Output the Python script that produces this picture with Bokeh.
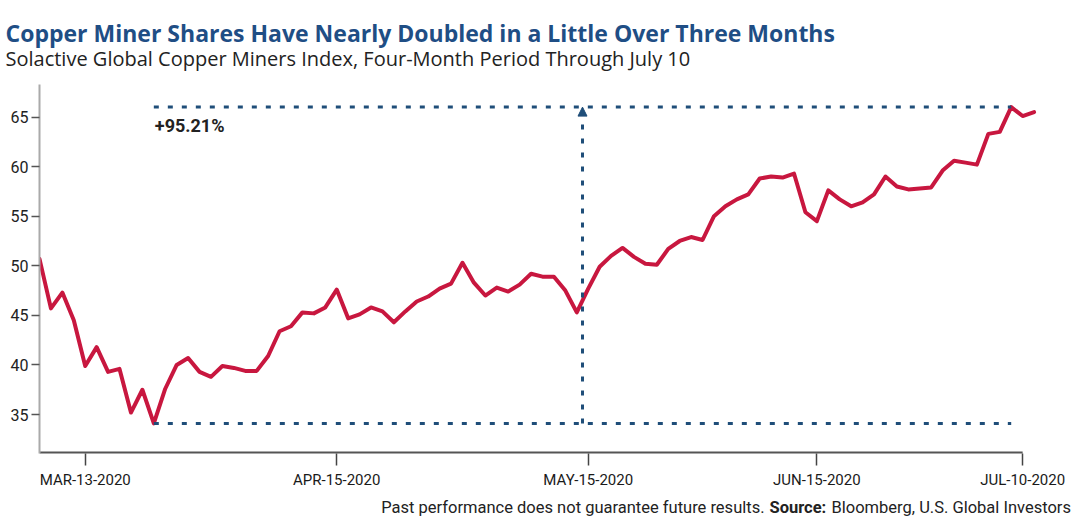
from bokeh.plotting import figure
from bokeh.layouts import column
from bokeh.models import Range1d, FixedTicker, Label, Arrow, NormalHead, ColumnDataSource
from bokeh.embed import file_html
from bokeh.resources import INLINE

# ---- data ----
# Solactive Global Copper Miners Index, daily closes, trading-day index 0..87 (Mar 9 2020 onward)
index_values = [50.7, 45.7, 47.3, 44.5, 39.9, 41.8, 39.3, 39.6, 35.2, 37.5,
                34.1, 37.6, 40.0, 40.7, 39.3, 38.8, 39.9, 39.7, 39.4, 39.4,
                40.9, 43.4, 43.9, 45.3, 45.2, 45.8, 47.6, 44.7, 45.1, 45.8,
                45.4, 44.3, 45.4, 46.4, 46.9, 47.7, 48.2, 50.3, 48.3, 47.0,
                47.8, 47.4, 48.1, 49.2, 48.9, 48.9, 47.5, 45.3, 47.7, 49.9,
                51.0, 51.8, 50.9, 50.2, 50.1, 51.7, 52.5, 52.9, 52.6, 55.0,
                56.0, 56.7, 57.2, 58.8, 59.0, 58.9, 59.3, 55.4, 54.5, 57.6,
                56.7, 56.0, 56.4, 57.2, 59.0, 58.0, 57.7, 57.8, 57.9, 59.6,
                60.6, 60.4, 60.2, 63.3, 63.5, 66.0, 65.1, 65.5]
day_index = list(range(len(index_values)))

x_tick_positions = [4, 26, 48, 68, 86]
x_tick_labels = ["MAR-13-2020", "APR-15-2020", "MAY-15-2020", "JUN-15-2020", "JUL-10-2020"]
y_ticks = [35, 40, 45, 50, 55, 60, 65]

title_text = "Copper Miner Shares Have Nearly Doubled in a Little Over Three Months"
subtitle_text = "Solactive Global Copper Miners Index, Four-Month Period Through July 10"
gain_text = "+95.21%"
footer_plain = "Past performance does not guarantee future results."
footer_bold = "Source:"
footer_src = "Bloomberg, U.S. Global Investors"

RED = "#c8173f"
BLUE = "#1f4e79"
TITLE_BLUE = "#1f4e85"
FONT = "Roboto"
W = 1080
HEADER_H = 84                    # main frame top in the page
FRAME_BOTTOM = 453               # main frame bottom in the page
MAIN_H = FRAME_BOTTOM - HEADER_H + 42
FOOTER_H = 525 - HEADER_H - MAIN_H


def blank_fig(h):
    f = figure(width=W, height=h, output_backend="svg", toolbar_location=None,
               x_axis_location=None, y_axis_location=None, min_border=0,
               x_range=Range1d(0, 1), y_range=Range1d(0, 1))
    f.frame_align = False
    f.outline_line_color = None
    f.xgrid.visible = False
    f.ygrid.visible = False
    f.background_fill_color = "white"
    f.border_fill_color = "white"
    return f


def put(f, h, text, x, y_pos, size, style="normal", color="#222222", align="left", font=FONT):
    # x, y_pos in pixels from the top-left of that figure
    f.add_layout(Label(x=x, y=h - y_pos, x_units="screen", y_units="screen",
                       text=text, text_font=font, text_font_size=size, text_font_style=style,
                       text_color=color, text_align=align, text_baseline="alphabetic"))


# ---- header ----
header = blank_fig(HEADER_H)
put(header, HEADER_H, title_text, 5, 32, "23px", "bold", TITLE_BLUE, font="Open Sans")
put(header, HEADER_H, subtitle_text, 5, 58, "20px", font="Open Sans")

# ---- main chart ----
frame_left, frame_right = 39, 1037
y_lo, y_hi = 31.07, 68.28
p = figure(width=W, height=MAIN_H, output_backend="svg", toolbar_location=None,
           x_range=Range1d(0, 87.3), y_range=Range1d(y_lo, y_hi),
           min_border_left=frame_left, min_border_right=W - frame_right,
           min_border_top=0, min_border_bottom=MAIN_H - (FRAME_BOTTOM - HEADER_H))
p.frame_align = False
p.outline_line_color = None
p.xgrid.visible = False
p.ygrid.visible = False
p.background_fill_color = "white"
p.border_fill_color = "white"

src = ColumnDataSource(dict(x=day_index, y=index_values))
p.line("x", "y", source=src, line_color=RED, line_width=4, line_join="round", line_cap="round")

i_min = min(day_index, key=lambda i: index_values[i])
i_max = max(day_index, key=lambda i: index_values[i])
v_min, v_max = index_values[i_min], index_values[i_max]
p.segment(x0=[i_min, i_min], y0=[v_min, v_max], x1=[i_max, i_max], y1=[v_min, v_max],
          line_color=BLUE, line_width=3, line_dash="5 9")
x_mid = (i_min + i_max) / 2
p.add_layout(Arrow(end=NormalHead(size=9, fill_color=BLUE, line_color=BLUE, line_width=1),
                   x_start=x_mid, y_start=v_min, x_end=x_mid, y_end=v_max,
                   line_color=BLUE, line_width=3, line_dash="5 9"))
p.add_layout(Label(x=i_min, y=v_max, text=gain_text, x_offset=1, y_offset=-8,
                   text_baseline="top", text_align="left", text_font=FONT,
                   text_font_style="bold", text_font_size="18px", text_color="#222222"))

ya = p.yaxis[0]
ya.ticker = FixedTicker(ticks=y_ticks)
ya.axis_line_color = "#aaaaaa"
ya.axis_line_width = 2
ya.major_tick_line_color = "#555555"
ya.major_tick_line_width = 1.5
ya.major_tick_out = 8
ya.major_tick_in = 0
ya.minor_tick_line_color = None
ya.major_label_text_font = FONT
ya.major_label_text_font_size = "16px"
ya.major_label_text_color = "#222222"
ya.major_label_standoff = 3

xa = p.xaxis[0]
xa.ticker = FixedTicker(ticks=x_tick_positions)
xa.major_label_overrides = {t: l for t, l in zip(x_tick_positions, x_tick_labels)}
xa.axis_line_color = None
xa.major_tick_line_color = "#444444"
xa.major_tick_line_width = 1.5
xa.major_tick_out = 12
xa.major_tick_in = 0
xa.minor_tick_line_color = None
xa.major_label_text_font = FONT
xa.major_label_text_font_size = "15px"
xa.major_label_text_color = "#1a1a1a"
xa.major_label_standoff = 5
# x-axis baseline that stops at the last tick (half of it falls inside the frame)
p.segment(x0=[0], y0=[y_lo], x1=[x_tick_positions[-1]], y1=[y_lo],
          line_color="#555555", line_width=4)

# ---- footer ----
footer = blank_fig(FOOTER_H)
top = HEADER_H + MAIN_H
put(footer, FOOTER_H, footer_plain, 764, 507 - top, "16.5px", align="right")
put(footer, FOOTER_H, footer_bold, 769, 507 - top, "16.5px", "bold")
put(footer, FOOTER_H, footer_src, 831, 507 - top, "16.5px")

layout = column(header, p, footer, spacing=0)
open("out.html", "w").write(file_html(layout, INLINE))
